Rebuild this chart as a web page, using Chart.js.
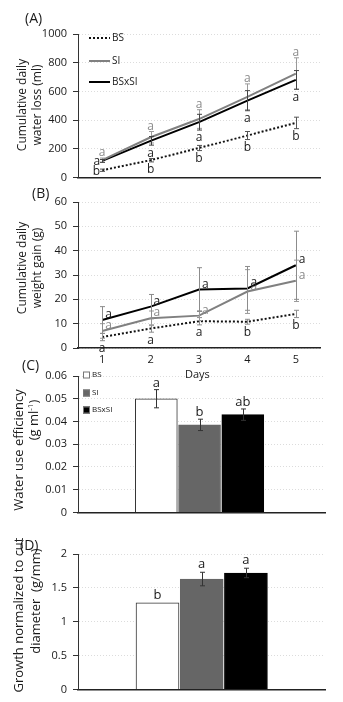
<!DOCTYPE html>
<html>
<head>
<meta charset="utf-8">
<script src="https://cdn.jsdelivr.net/npm/chart.js@4.4.0/dist/chart.umd.min.js"></script>
<style>
  body { margin: 0; background: #fff; width: 343px; height: 702px; overflow: hidden; position: relative; font-family: "Open Sans", sans-serif; color: #1a1a1a; }
  .panel { position: absolute; left: 0; width: 343px; }
  .tag { position: absolute; font-size: 14px; white-space: nowrap; line-height: 1; }
  .yt { position: absolute; white-space: nowrap; text-align: center; transform: translate(-50%, -50%) rotate(-90deg); line-height: 15px; }
  sup { font-size: 8px; vertical-align: 5px; line-height: 0; }
</style>
</head>
<body>
<div class="panel" style="top:0;height:190px"><canvas id="chartA"></canvas></div>
<div class="panel" style="top:185px;height:185px"><canvas id="chartB"></canvas></div>
<div class="panel" style="top:360px;height:165px"><canvas id="chartC"></canvas></div>
<div class="panel" style="top:525px;height:177px"><canvas id="chartD"></canvas></div>

<div class="tag" style="left:25px;top:11px">(A)</div>
<div class="tag" style="left:32px;top:186px">(B)</div>
<div class="tag" style="left:22px;top:358px">(C)</div>
<div class="tag" style="left:20px;top:538px">(D)</div>
<div class="tag" style="left:185px;top:368px;font-size:11px">Days</div>

<div class="yt" style="left:29px;top:105px;font-size:12px">Cumulative daily<br>water loss (ml)</div>
<div class="yt" style="left:29px;top:268px;font-size:12px">Cumulative daily<br>weight gain (g)</div>
<div class="yt" style="left:18px;top:450px;font-size:13px">Water use efficiency</div>
<div class="yt" style="left:33px;top:420px;font-size:13px">(g ml<sup>-1</sup>)</div>
<div class="yt" style="left:18px;top:615px;font-size:13px">Growth normalized to cut</div>
<div class="yt" style="left:35px;top:601px;font-size:13px">diameter&nbsp; (g/mm)</div>

<script>
// ---- data ----
const days = ['1', '2', '3', '4', '5'];

// (A) cumulative daily water loss (ml)
const lossBS = [50, 120, 205, 292, 380];
const lossBSErr = [8, 12, 18, 28, 40];
const lossBSLetters = ['b', 'b', 'b', 'b', 'b'];
const lossSI = [120, 280, 407, 562, 724];
const lossSIErr = [15, 40, 65, 90, 110];
const lossSILetters = ['a', 'a', 'a', 'a', 'a'];
const lossBSxSI = [115, 255, 385, 535, 680];
const lossBSxSIErr = [10, 30, 55, 70, 65];
const lossBSxSILetters = ['a', 'a', 'a', 'a', 'a'];

// (B) cumulative daily weight gain (g)
const gainBS = [4.5, 8, 11, 10.8, 14];
const gainBSErr = [1.5, 1.5, 1.5, 1, 1.5];
const gainBSLetters = ['a', 'a', 'a', 'b', 'b'];
const gainSI = [7, 12.2, 13.3, 23.2, 27.6];
const gainSIErr = [3, 3, 2, 9, 8.5];
const gainSILetters = ['a', 'a', 'a', 'a', 'a'];
const gainBSxSI = [11.5, 17, 24, 24.5, 34];
const gainBSxSIErr = [5.5, 5, 9, 9, 14];
const gainBSxSILetters = ['a', 'a', 'a', 'a', 'a'];

// (C) water use efficiency, (D) growth normalized to cut diameter
const groups = ['BS', 'SI', 'BSxSI'];
const wueMean = [0.050, 0.0385, 0.043];
const wueErr = [0.004, 0.0025, 0.0025];
const wueLetters = ['a', 'b', 'ab'];
const growthMean = [1.28, 1.63, 1.72];
const growthErr = [0, 0.1, 0.07];
const growthLetters = ['b', 'a', 'a'];

const groupColors = ['#ffffff', '#666666', '#000000'];

Chart.defaults.font.family = '"Open Sans", sans-serif';
Chart.defaults.color = '#1a1a1a';
Chart.defaults.animation = false;

function valueOf(d) { return (d !== null && typeof d === 'object') ? d.y : d; }

// error bars + significance letters
const marksPlugin = {
  id: 'marks',
  afterDatasetsDraw(chart, args, opts) {
    const ctx = chart.ctx;
    const y = chart.scales.y;
    chart.data.datasets.forEach((ds, i) => {
      const meta = chart.getDatasetMeta(i);
      ctx.save();
      if (ds.errors) {
        ctx.strokeStyle = ds.errColor || '#555';
        ctx.lineWidth = 1;
        ds.errors.forEach((e, j) => {
          if (!e) return;
          const v = valueOf(ds.data[j]);
          const px = Math.round(meta.data[j].x) + 0.5;
          const top = y.getPixelForValue(v + e), bot = y.getPixelForValue(v - e);
          ctx.beginPath();
          ctx.moveTo(px, top); ctx.lineTo(px, bot);
          ctx.moveTo(px - 2.5, top); ctx.lineTo(px + 2.5, top);
          ctx.moveTo(px - 2.5, bot); ctx.lineTo(px + 2.5, bot);
          ctx.stroke();
        });
      }
      if (ds.letters) {
        ctx.fillStyle = ds.letterColor || '#1a1a1a';
        ctx.font = (opts.size || 12) + 'px "Open Sans", sans-serif';
        const gap = opts.gap == null ? 2 : opts.gap;
        ds.letters.forEach((t, j) => {
          const v = valueOf(ds.data[j]);
          const e = ds.errors ? ds.errors[j] : 0;
          const px = meta.data[j].x;
          if (opts.firstLeft && j === 0 && ds.letterPos === 'below') {
            ctx.textAlign = 'right'; ctx.textBaseline = 'middle';
            ctx.fillText(t, px - 2, y.getPixelForValue(v) + 1);
          } else if (ds.letterPos === 'above') {
            ctx.textAlign = 'center'; ctx.textBaseline = 'alphabetic';
            ctx.fillText(t, px, y.getPixelForValue(v + e) - gap);
          } else if (ds.letterPos === 'below') {
            ctx.textAlign = 'center'; ctx.textBaseline = 'top';
            ctx.fillText(t, px, y.getPixelForValue(v - e) + gap);
          } else if (ds.letterPos === 'right') {
            ctx.textAlign = 'left'; ctx.textBaseline = 'alphabetic';
            ctx.fillText(t, px + 3, y.getPixelForValue(v) - 2);
          }
        });
      }
      ctx.restore();
    });
  }
};

// small legends placed inside the plot
const miniLegend = {
  id: 'miniLegend',
  afterDraw(chart, args, opts) {
    if (!opts.kind) return;
    const ctx = chart.ctx;
    ctx.save();
    ctx.font = opts.size + 'px "Open Sans", sans-serif';
    ctx.textBaseline = 'middle';
    ctx.fillStyle = '#1a1a1a';
    if (opts.kind === 'line') {
      chart.data.datasets.forEach((ds, i) => {
        const yy = opts.ys[i];
        ctx.save();
        ctx.strokeStyle = ds.borderColor;
        ctx.lineWidth = ds.borderWidth;
        ctx.setLineDash(ds.borderDash || []);
        ctx.beginPath(); ctx.moveTo(opts.x, yy); ctx.lineTo(opts.x + opts.len, yy); ctx.stroke();
        ctx.restore();
        ctx.fillText(ds.label, opts.x + opts.len + 2, yy);
      });
    } else {
      const ds = chart.data.datasets[0];
      chart.data.labels.forEach((lab, i) => {
        const yy = opts.ys[i];
        ctx.fillStyle = ds.backgroundColor[i];
        ctx.fillRect(opts.x, yy - 3.5, 7, 7);
        ctx.strokeStyle = '#777'; ctx.lineWidth = 1;
        ctx.strokeRect(opts.x + 0.5, yy - 3, 6, 6);
        ctx.fillStyle = '#1a1a1a';
        ctx.fillText(lab, opts.x + 9, yy);
      });
    }
    ctx.restore();
  }
};

Chart.register(marksPlugin, miniLegend);

function yScale(min, max, step) {
  return {
    min, max,
    ticks: { stepSize: step, padding: 6, font: { size: 11 }, color: '#1a1a1a',
             callback: (v) => String(+v.toFixed(4)) },
    grid: { color: '#dcdcdc', lineWidth: 1, tickLength: 5, tickColor: '#333', drawTicks: true },
    border: { color: '#333', width: 1, dash: [1, 2] },
    afterFit(s) { s.width = 78; }
  };
}

function lineSets(bs, bsErr, bsLet, si, siErr, siLet, x, xErr, xLet, errGray, posSI, posX) {
  return [
    { label: 'BS', data: bs, errors: bsErr, letters: bsLet, letterPos: 'below', letterColor: '#1a1a1a',
      borderColor: '#111', borderWidth: 2, borderDash: [2, 2], errColor: errGray ? '#8c8c8c' : '#555' },
    { label: 'SI', data: si, errors: siErr, letters: siLet, letterPos: posSI, letterColor: '#8a8a8a',
      borderColor: '#808080', borderWidth: 2, errColor: '#9a9a9a' },
    { label: 'BSxSI', data: x, errors: xErr, letters: xLet, letterPos: posX, letterColor: '#1a1a1a',
      borderColor: '#000', borderWidth: 2, errColor: errGray ? '#8c8c8c' : '#444' }
  ];
}

const lineCommon = {
  responsive: true, maintainAspectRatio: false,
  elements: { point: { radius: 0 }, line: { tension: 0 } },
  events: []
};

new Chart(document.getElementById('chartA'), {
  type: 'line',
  data: {
    labels: days,
    datasets: lineSets(lossBS, lossBSErr, lossBSLetters, lossSI, lossSIErr, lossSILetters,
      lossBSxSI, lossBSxSIErr, lossBSxSILetters, false, 'above', 'below')
  },
  options: Object.assign({}, lineCommon, {
    layout: { padding: { top: 34, right: 23, left: 0, bottom: 0 } },
    plugins: {
      legend: { display: false }, tooltip: { enabled: false },
      marks: { gap: 2, size: 12, firstLeft: true },
      miniLegend: { kind: 'line', x: 89, len: 21, ys: [38, 61, 82], size: 10 }
    },
    scales: {
      x: { offset: true, grid: { display: false, drawTicks: false }, border: { color: '#222', width: 1.5 },
           ticks: { display: false }, afterFit(s) { s.height = 11; } },
      y: yScale(0, 1000, 200)
    }
  })
});

new Chart(document.getElementById('chartB'), {
  type: 'line',
  data: {
    labels: days,
    datasets: lineSets(gainBS, gainBSErr, gainBSLetters, gainSI, gainSIErr, gainSILetters,
      gainBSxSI, gainBSxSIErr, gainBSxSILetters, true, 'right', 'right')
  },
  options: Object.assign({}, lineCommon, {
    layout: { padding: { top: 17, right: 23, left: 0, bottom: 0 } },
    plugins: {
      legend: { display: false }, tooltip: { enabled: false },
      marks: { gap: 2, size: 12 }
    },
    scales: {
      x: { offset: true, grid: { display: false, drawTicks: false }, border: { color: '#222', width: 1.5 },
           ticks: { padding: 5, font: { size: 11 }, color: '#1a1a1a' }, afterFit(s) { s.height = 22; } },
      y: yScale(0, 60, 10)
    }
  })
});

function barChart(id, mean, err, letters, yMin, yMax, yStep, xMax, topPad, xHeight, thick, gap, legend) {
  return new Chart(document.getElementById(id), {
    type: 'bar',
    data: {
      labels: groups,
      datasets: [{
        data: mean.map((v, i) => ({ x: i + 1, y: v })),
        errors: err, letters: letters, letterPos: 'above', errColor: '#333',
        backgroundColor: groupColors, borderColor: ['#333', '#666', '#000'], borderWidth: 1,
        barThickness: thick
      }]
    },
    options: {
      responsive: true, maintainAspectRatio: false, events: [],
      layout: { padding: { top: topPad, right: 18, left: 0, bottom: 0 } },
      plugins: {
        legend: { display: false }, tooltip: { enabled: false },
        marks: { gap: gap, size: 13 },
        miniLegend: legend
      },
      scales: {
        x: { type: 'linear', min: -0.24, max: xMax, grid: { display: false, drawTicks: false },
             border: { color: '#222', width: 1.5 }, ticks: { display: false }, afterFit(s) { s.height = xHeight; } },
        y: yScale(yMin, yMax, yStep)
      }
    }
  });
}

barChart('chartC', wueMean, wueErr, wueLetters, 0, 0.06, 0.01, 4.33, 16, 7, 42, 3,
  { kind: 'box', x: 83, ys: [15, 33, 50], size: 8 });
barChart('chartD', growthMean, growthErr, growthLetters, 0, 2, 0.5, 4.23, 29, 10, 43, 4, {});
</script>
</body>
</html>
